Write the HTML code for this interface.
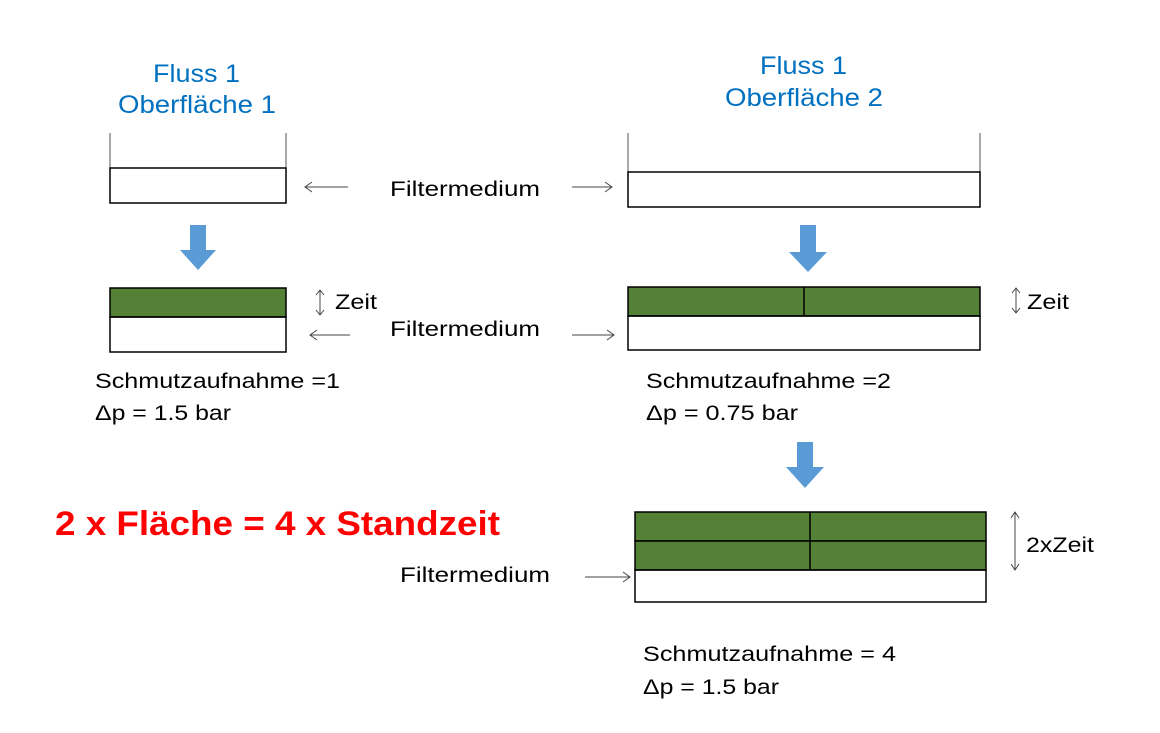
<!DOCTYPE html>
<html><head><meta charset="utf-8"><style>body{margin:0;background:#fff}svg{display:block}text{font-family:"Liberation Sans",sans-serif}</style></head>
<body>
<svg width="1160" height="733" viewBox="0 0 1160 733" xmlns="http://www.w3.org/2000/svg">
<g fill="#0070C0" font-size="25">
<text x="153" y="82" textLength="87" lengthAdjust="spacingAndGlyphs">Fluss 1</text>
<text x="118" y="113" textLength="158" lengthAdjust="spacingAndGlyphs">Oberfläche 1</text>
<text x="760" y="74" textLength="87" lengthAdjust="spacingAndGlyphs">Fluss 1</text>
<text x="725" y="106" textLength="158" lengthAdjust="spacingAndGlyphs">Oberfläche 2</text>
</g>
<g stroke="#000" fill="none">
<line x1="110" y1="133" x2="110" y2="168" stroke="#555"/>
<line x1="286" y1="133" x2="286" y2="168" stroke="#555"/>
<rect x="110" y="168" width="176" height="35" stroke-width="1.5"/>
<line x1="628" y1="133" x2="628" y2="172" stroke="#555"/>
<line x1="980" y1="133" x2="980" y2="172" stroke="#555"/>
<rect x="628" y="172" width="352" height="35" stroke-width="1.5"/>
<rect x="110" y="288" width="176" height="29" fill="#538135" stroke-width="1.5"/>
<rect x="110" y="317" width="176" height="35" stroke-width="1.5"/>
<rect x="628" y="287" width="352" height="29" fill="#538135" stroke-width="1.5"/>
<line x1="804" y1="287" x2="804" y2="316" stroke-width="1.5"/>
<rect x="628" y="316" width="352" height="34" stroke-width="1.5"/>
<rect x="635" y="512" width="351" height="29" fill="#538135" stroke-width="1.5"/>
<rect x="635" y="541" width="351" height="29" fill="#538135" stroke-width="1.5"/>
<line x1="810" y1="512" x2="810" y2="570" stroke-width="1.5"/>
<rect x="635" y="570" width="351" height="32" stroke-width="1.5"/>
</g>
<g fill="#5B9BD5">
<polygon points="190,225 206,225 206,250 216,250 198,270 180,250 190,250"/>
<polygon points="800,225 816,225 816,252 827,252 808,272 789,252 800,252"/>
<polygon points="797,442 813,442 813,467 824,467 805,488 786,467 797,467"/>
</g>
<g stroke="#444" fill="none" stroke-width="1">
<path d="M348,187H305M312,182l-7,5l7,5"/>
<path d="M572,187H612M605,182l7,5l-7,5"/>
<path d="M350,335H310M317,330l-7,5l7,5"/>
<path d="M572,335H614M607,330l7,5l-7,5"/>
<path d="M585,577H630M623,572l7,5l-7,5"/>
<path d="M320,290V315M316,295l4,-5l4,5M316,310l4,5l4,-5"/>
<path d="M1016,288V313M1012,293l4,-5l4,5M1012,308l4,5l4,-5"/>
<path d="M1015,512V570M1011,518l4,-6l4,6M1011,564l4,6l4,-6"/>
</g>
<g fill="#000" font-size="21">
<text x="390" y="196" textLength="150" lengthAdjust="spacingAndGlyphs">Filtermedium</text>
<text x="390" y="336" textLength="150" lengthAdjust="spacingAndGlyphs">Filtermedium</text>
<text x="400" y="582" textLength="150" lengthAdjust="spacingAndGlyphs">Filtermedium</text>
<text x="335" y="309" textLength="42" lengthAdjust="spacingAndGlyphs">Zeit</text>
<text x="1027" y="309" textLength="42" lengthAdjust="spacingAndGlyphs">Zeit</text>
<text x="1026" y="552" textLength="68" lengthAdjust="spacingAndGlyphs">2xZeit</text>
<text x="95" y="388" textLength="245" lengthAdjust="spacingAndGlyphs">Schmutzaufnahme =1</text>
<text x="95" y="420" textLength="136" lengthAdjust="spacingAndGlyphs">Δp = 1.5 bar</text>
<text x="646" y="388" textLength="245" lengthAdjust="spacingAndGlyphs">Schmutzaufnahme =2</text>
<text x="646" y="420" textLength="152" lengthAdjust="spacingAndGlyphs">Δp = 0.75 bar</text>
<text x="643" y="661" textLength="253" lengthAdjust="spacingAndGlyphs">Schmutzaufnahme = 4</text>
<text x="643" y="694" textLength="136" lengthAdjust="spacingAndGlyphs">Δp = 1.5 bar</text>
</g>
<text x="55" y="535" fill="#FF0000" font-size="34" font-weight="bold" textLength="445" lengthAdjust="spacingAndGlyphs">2 x Fläche = 4 x Standzeit</text>
</svg>
</body></html>
